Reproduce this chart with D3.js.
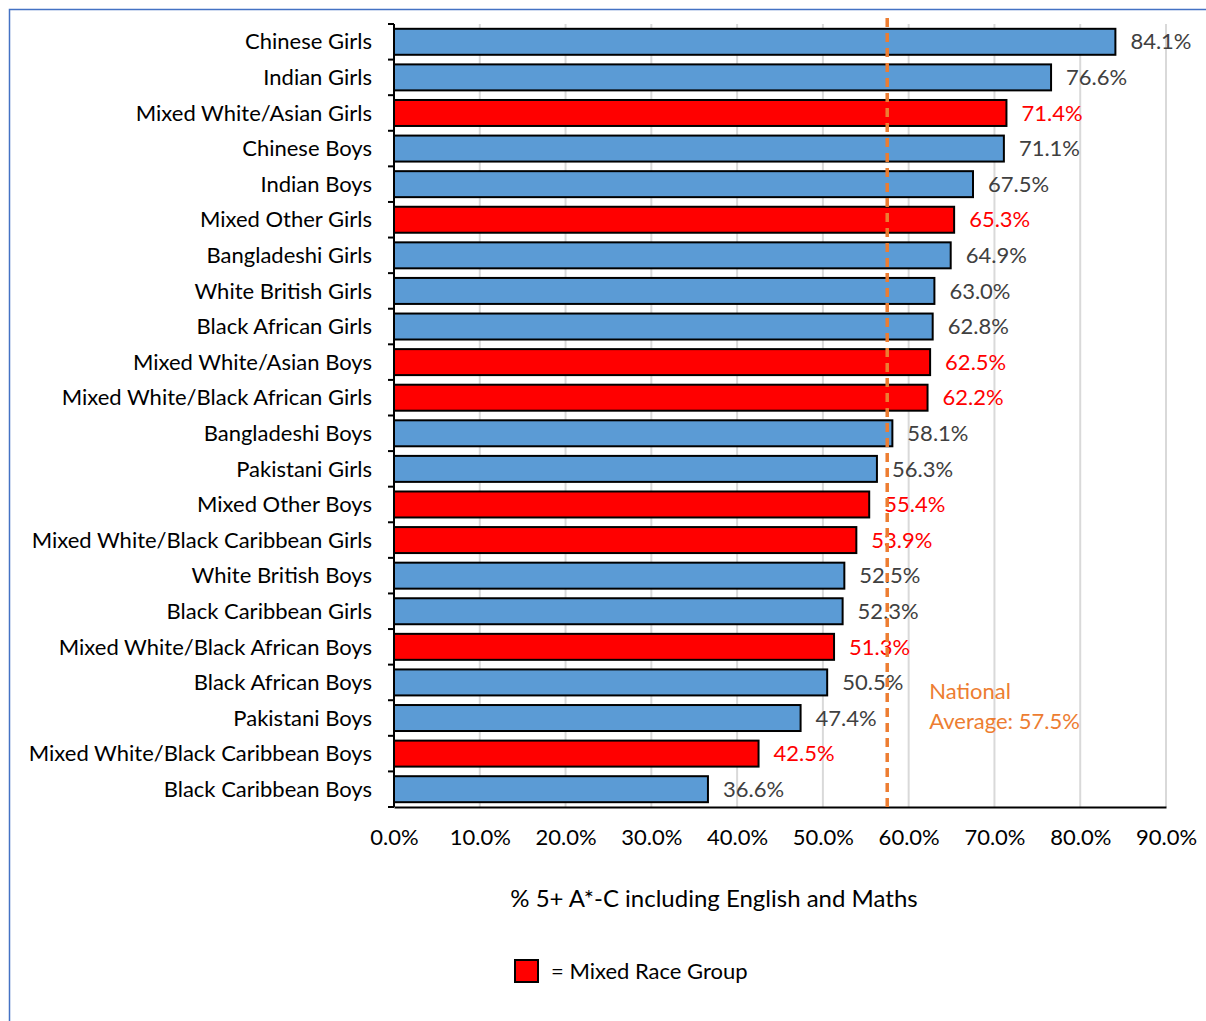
<!DOCTYPE html>
<html>
<head>
<meta charset="utf-8">
<script src="https://cdn.jsdelivr.net/npm/d3@7"></script>
<style>
  body { margin: 0; background: #fff; }
  svg text { font-family: Lato, "Open Sans", sans-serif; }
</style>
</head>
<body>
<div id="vis1"></div>
<script>
// frame size and margins
const FRAME_WIDTH = 1206;
const FRAME_HEIGHT = 1021;
const MARGINS = {left: 394, right: 40, top: 24, bottom: 214};

// data
const groups = ["Chinese Girls", "Indian Girls", "Mixed White/Asian Girls", "Chinese Boys",
  "Indian Boys", "Mixed Other Girls", "Bangladeshi Girls", "White British Girls",
  "Black African Girls", "Mixed White/Asian Boys", "Mixed White/Black African Girls",
  "Bangladeshi Boys", "Pakistani Girls", "Mixed Other Boys", "Mixed White/Black Caribbean Girls",
  "White British Boys", "Black Caribbean Girls", "Mixed White/Black African Boys",
  "Black African Boys", "Pakistani Boys", "Mixed White/Black Caribbean Boys", "Black Caribbean Boys"];
const values = [84.1, 76.6, 71.4, 71.1, 67.5, 65.3, 64.9, 63.0, 62.8, 62.5, 62.2,
  58.1, 56.3, 55.4, 53.9, 52.5, 52.3, 51.3, 50.5, 47.4, 42.5, 36.6];
const mixedRace = groups.map(g => g.startsWith("Mixed"));
const xTicks = [0, 10, 20, 30, 40, 50, 60, 70, 80, 90];
const nationalAverage = 57.5;

const data = groups.map((g, i) => ({group: g, value: values[i], mixed: mixedRace[i]}));

const VIS_WIDTH = FRAME_WIDTH - MARGINS.left - MARGINS.right;
const VIS_HEIGHT = FRAME_HEIGHT - MARGINS.top - MARGINS.bottom;

const FRAME = d3.select("#vis1")
  .append("svg")
    .attr("width", FRAME_WIDTH)
    .attr("height", FRAME_HEIGHT);

// outer border
FRAME.append("rect")
  .attr("x", 9.5).attr("y", 9.5)
  .attr("width", FRAME_WIDTH + 20).attr("height", FRAME_HEIGHT + 20)
  .attr("fill", "none")
  .attr("stroke", "#4472C4")
  .attr("stroke-width", 1.5);

// scales
const X_SCALE = d3.scaleLinear().domain([0, 90]).range([0, 772]);
const Y_SCALE = d3.scaleBand().domain(groups).range([0, 783]).paddingInner(0.27).paddingOuter(0.135);

const G = FRAME.append("g").attr("transform", `translate(${MARGINS.left},${MARGINS.top})`);

// gridlines
G.selectAll(".grid")
  .data(xTicks.slice(1))
  .enter()
  .append("line")
    .attr("x1", d => X_SCALE(d)).attr("x2", d => X_SCALE(d))
    .attr("y1", 0).attr("y2", 783)
    .attr("stroke", "#d9d9d9")
    .attr("stroke-width", 2);

// bars
G.selectAll(".bar")
  .data(data)
  .enter()
  .append("rect")
    .attr("x", 0)
    .attr("y", d => Y_SCALE(d.group))
    .attr("width", d => X_SCALE(d.value))
    .attr("height", Y_SCALE.bandwidth())
    .attr("fill", d => d.mixed ? "#FF0000" : "#5B9BD5")
    .attr("stroke", "#000")
    .attr("stroke-width", 2);

// value labels
G.selectAll(".val")
  .data(data)
  .enter()
  .append("text")
    .attr("x", d => X_SCALE(d.value) + 15)
    .attr("y", d => Y_SCALE(d.group) + Y_SCALE.bandwidth() / 2)
    .attr("dy", "0.35em")
    .attr("font-size", "22px")
    .attr("fill", d => d.mixed ? "#FF0000" : "#404040")
    .text(d => d.value.toFixed(1) + "%");

// y axis with ticks at band boundaries
const yAxis = G.append("g");
yAxis.append("line")
  .attr("x1", 0).attr("x2", 0).attr("y1", 0).attr("y2", 783)
  .attr("stroke", "#000").attr("stroke-width", 2);
yAxis.selectAll(".ytick")
  .data(d3.range(groups.length + 1))
  .enter()
  .append("line")
    .attr("x1", -6).attr("x2", 0)
    .attr("y1", i => i * Y_SCALE.step()).attr("y2", i => i * Y_SCALE.step())
    .attr("stroke", "#000").attr("stroke-width", 2);
yAxis.selectAll(".ylab")
  .data(groups)
  .enter()
  .append("text")
    .attr("x", -22)
    .attr("y", d => Y_SCALE(d) + Y_SCALE.bandwidth() / 2)
    .attr("dy", "0.35em")
    .attr("text-anchor", "end")
    .attr("font-size", "22px")
    .attr("fill", "#000")
    .text(d => d);

// x axis
G.append("g")
  .attr("transform", "translate(0,783)")
  .call(d3.axisBottom(X_SCALE).tickValues(xTicks).tickSize(0).tickPadding(22)
    .tickFormat(d => d.toFixed(1) + "%"))
  .call(g => g.select(".domain").attr("stroke", "#000").attr("stroke-width", 2))
  .selectAll("text")
    .attr("font-size", "22px")
    .attr("fill", "#000")
    .attr("font-family", "Lato, 'Open Sans', sans-serif");

// national average line
G.append("line")
  .attr("x1", X_SCALE(nationalAverage)).attr("x2", X_SCALE(nationalAverage))
  .attr("y1", -6).attr("y2", 786)
  .attr("stroke", "#ED7D31")
  .attr("stroke-width", 3.5)
  .attr("stroke-dasharray", "9,6");

G.append("text")
  .attr("x", X_SCALE(nationalAverage) + 42)
  .attr("y", 667)
  .attr("dy", "0.35em")
  .attr("font-size", "22px")
  .attr("fill", "#ED7D31")
  .selectAll("tspan")
  .data(["National", "Average: " + nationalAverage.toFixed(1) + "%"])
  .enter()
  .append("tspan")
    .attr("x", X_SCALE(nationalAverage) + 42)
    .attr("dy", (d, i) => i === 0 ? "0.35em" : "1.36em")
    .text(d => d);

// axis title
FRAME.append("text")
  .attr("x", 714)
  .attr("y", 899)
  .attr("dy", "0.35em")
  .attr("text-anchor", "middle")
  .attr("font-size", "24px")
  .attr("fill", "#000")
  .text("% 5+ A*-C including English and Maths");

// legend
FRAME.append("rect")
  .attr("x", 515).attr("y", 960)
  .attr("width", 23).attr("height", 22)
  .attr("fill", "#FF0000")
  .attr("stroke", "#000")
  .attr("stroke-width", 2);
FRAME.append("text")
  .attr("x", 551).attr("y", 971)
  .attr("dy", "0.35em")
  .attr("font-size", "22px")
  .attr("fill", "#000")
  .text("= Mixed Race Group");
</script>
</body>
</html>
